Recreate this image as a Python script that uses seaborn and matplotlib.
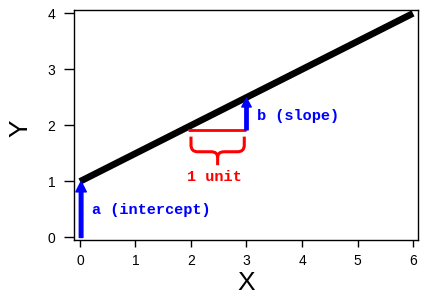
import matplotlib
matplotlib.use("Agg")
import matplotlib.pyplot as plt
import seaborn as sns
import pandas as pd
from matplotlib.path import Path
from matplotlib.patches import PathPatch

# data
line_x = [0, 6]
line_y = [1, 4]
intercept = 1.0
slope = 0.5
run_start = 2.0
run_end = 3.0
rise_base = 1.92
xticks = [0, 1, 2, 3, 4, 5, 6]
yticks = [0, 1, 2, 3, 4]
label_a = "a (intercept)"
label_b = "b (slope)"
label_unit = "1 unit"

sns.set_style("ticks")
plt.rcParams["font.family"] = ["Liberation Sans", "DejaVu Sans"]

fig = plt.figure(figsize=(4.34, 3.05), dpi=100)
ax = fig.add_axes([74 / 434, 65 / 305, 344 / 434, 230 / 305])

df = pd.DataFrame({"X": line_x, "Y": line_y})
sns.lineplot(data=df, x="X", y="Y", ax=ax, color="black", linewidth=4.8,
             solid_capstyle="butt", zorder=3)

blue = "#0000ff"
red = "#ff0000"

# intercept arrow
ax.annotate("", xy=(0.02, intercept), xytext=(0.02, 0),
            arrowprops=dict(facecolor=blue, edgecolor=blue, width=2.6,
                            headwidth=7.5, headlength=7.5, shrink=0),
            zorder=4)
ax.text(0.21, 0.49, label_a, color=blue, fontsize=11, fontweight="bold",
        family="Liberation Mono", va="center", ha="left")

# run line
ax.plot([run_start - 0.05, run_end], [rise_base, rise_base], color=red,
        linewidth=2, solid_capstyle="butt", zorder=3)

# rise arrow
rise_top = intercept + slope * run_end
ax.annotate("", xy=(run_end, rise_top - 0.01), xytext=(run_end, rise_base),
            arrowprops=dict(facecolor=blue, edgecolor=blue, width=2.4,
                            headwidth=6.8, headlength=6.5, shrink=0),
            zorder=4)
ax.text(3.19, 2.16, label_b, color=blue, fontsize=11, fontweight="bold",
        family="Liberation Mono", va="center", ha="left")

# brace
bx0, bx1 = run_start, run_end - 0.04
bm = (bx0 + bx1) / 2
ytop, ymid, ytip = 1.80, 1.53, 1.29
r = 0.12
verts = [
    (bx0, ytop), (bx0, ymid + 0.12), (bx0, ymid), (bx0 + r, ymid),
    (bm - r, ymid), (bm, ymid), (bm, ymid - 0.1), (bm, ytip),
]
codes = [Path.MOVETO, Path.LINETO, Path.CURVE3, Path.CURVE3,
         Path.LINETO, Path.CURVE3, Path.CURVE3, Path.LINETO]
verts2 = [
    (bx1, ytop), (bx1, ymid + 0.12), (bx1, ymid), (bx1 - r, ymid),
    (bm + r, ymid), (bm, ymid), (bm, ymid - 0.1),
]
codes2 = [Path.MOVETO, Path.LINETO, Path.CURVE3, Path.CURVE3,
          Path.LINETO, Path.CURVE3, Path.CURVE3]
for v, c in ((verts, codes), (verts2, codes2)):
    ax.add_patch(PathPatch(Path(v, c), facecolor="none", edgecolor=red,
                           linewidth=2.2, zorder=3))
ax.text(2.43, 1.08, label_unit, color=red, fontsize=11, fontweight="bold",
        family="Liberation Mono", va="center", ha="center")

ax.set_xlim(-0.108, 6.09)
ax.set_ylim(-0.045, 4.06)
ax.set_xticks(xticks)
ax.set_yticks(yticks)
ax.tick_params(axis="x", length=5, width=1, pad=5, labelsize=10, color="black", labelcolor="black")
ax.tick_params(axis="y", length=7.5, width=1, pad=6, labelsize=10, color="black", labelcolor="black")
for s in ax.spines.values():
    s.set_color("black")
    s.set_linewidth(1)

ax.set_xlabel("X", fontsize=19, color="black")
ax.set_ylabel("Y", fontsize=19, color="black")
ax.xaxis.label.set_va("center")
ax.yaxis.label.set_va("center")
ax.xaxis.set_label_coords(0.5, -0.187)
ax.yaxis.set_label_coords(-0.155, 0.487)

fig.savefig("out.png", dpi=100, facecolor="white")
